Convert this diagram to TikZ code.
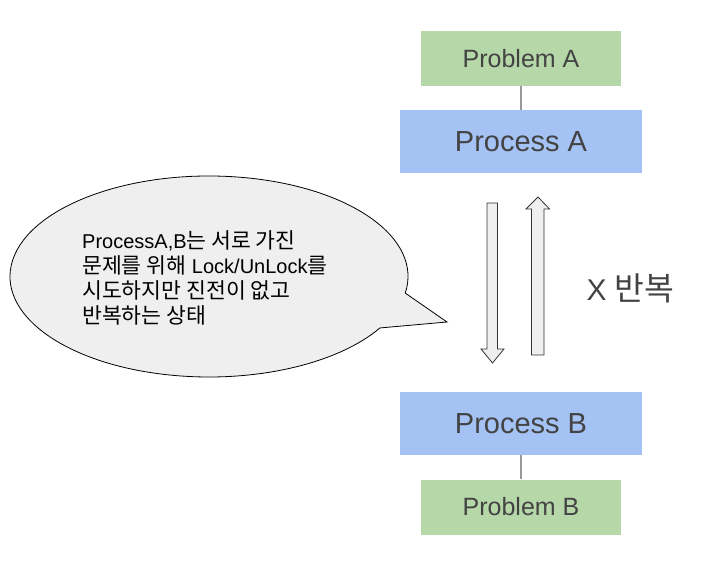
\documentclass[tikz,border=0pt]{standalone}
\usepackage{fontspec}
\setmainfont{Liberation Sans}
\newfontfamily\kr[Scale=1.08]{Noto Sans CJK KR}
\usepackage{xcolor}
\usetikzlibrary{positioning}

\definecolor{probgreen}{HTML}{B6D7A8}
\definecolor{procblue}{HTML}{A4C2F4}
\definecolor{textgray}{HTML}{434343}
\definecolor{bubblegray}{HTML}{EFEFEF}

\begin{document}
\begin{tikzpicture}[x=1pt, y=1pt,
        probbox/.style={fill=probgreen, minimum width=200pt, minimum height=55pt, inner sep=0pt,
            text=textgray, font=\fontsize{25}{30}\selectfont},
        procbox/.style={fill=procblue, minimum width=242pt, minimum height=63pt, inner sep=0pt,
            text=textgray, font=\fontsize{29}{34}\selectfont},
        link/.style={draw=gray!80, line width=1.2pt},
        blockarrow/.style={draw=black!80, fill=bubblegray, line width=0.8pt, line join=miter}]
        \useasboundingbox (0, 0) rectangle (711, 570);

        \node[probbox] (probA) at (521, 511.5) {Problem A};
        \node[procbox] (procA) at (521, 428.5) {Process A};
        \node[procbox] (procB) at (521, 146.5) {Process B};
        \node[probbox] (probB) at (521, 63) {Problem B};

        \draw[link] (probA) -- (procA);
        \draw[link] (procB) -- (probB);

        % block arrows between the two processes
        \draw[blockarrow] (487, 367) -- (497.5, 367) -- (497.5, 221) -- (504, 221)
            -- (492.5, 207) -- (481, 221) -- (487, 221) -- cycle;
        \draw[blockarrow] (531.5, 215) -- (544, 215) -- (544, 361) -- (549.5, 361)
            -- (538, 373) -- (526, 361) -- (531.5, 361) -- cycle;

        \node[text=textgray, font=\fontsize{30}{36}\selectfont, anchor=west] (repeat) at (583, 282)
            {X {\kr 반복}};

        % speech bubble
        \draw[fill=bubblegray, line width=0.8pt] (209, 293.5) ++(-9.5:199pt and 100.5pt)
            arc[start angle=-9.5, end angle=329.2, x radius=199pt, y radius=100.5pt]
            -- (447, 248) -- cycle;
        \node[anchor=west, align=left, inner sep=0pt, font=\fontsize{20}{25}\selectfont] (bubbletext)
            at (82, 292.5) {ProcessA,B{\kr 는 서로 가진}\\
            {\kr 문제를 위해} Lock/UnLock{\kr 를}\\
            {\kr 시도하지만 진전이 없고}\\
            {\kr 반복하는 상태}};
\end{tikzpicture}
\end{document}
